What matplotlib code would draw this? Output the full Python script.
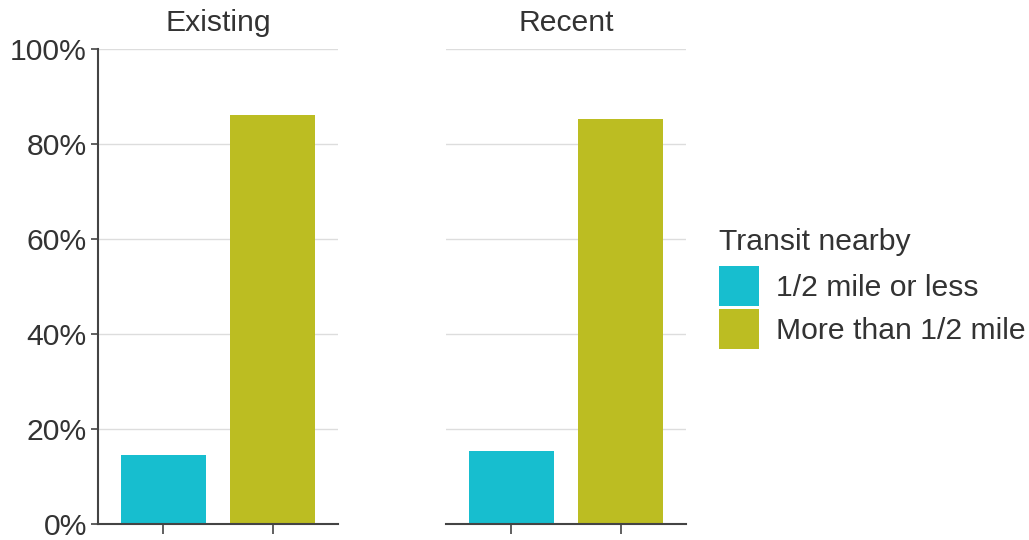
import matplotlib
matplotlib.use("Agg")
import matplotlib.pyplot as plt
from matplotlib.patches import Patch
from matplotlib.ticker import PercentFormatter

# data
panels = ["Existing", "Recent"]
categories = ["1/2 mile or less", "More than 1/2 mile"]
existing_vals = [14.5, 86.1]
recent_vals = [15.4, 85.3]
colors = ["#17BECF", "#BCBD22"]

plt.rcParams["font.family"] = ["Liberation Sans", "DejaVu Sans"]
text_color = "#333333"
fs = 21.7

fig = plt.figure(figsize=(10.29, 5.40), dpi=100)
ax1 = fig.add_axes([98 / 1029, 16 / 540, 240 / 1029, 475 / 540])
ax2 = fig.add_axes([446 / 1029, 16 / 540, 240 / 1029, 475 / 540])

for ax, title, vals in zip([ax1, ax2], panels, [existing_vals, recent_vals]):
    ax.bar(range(len(categories)), vals, width=0.78, color=colors, zorder=2)
    ax.set_xlim(-0.6, 1.6)
    ax.set_ylim(0, 100)
    ax.set_yticks([0, 20, 40, 60, 80, 100])
    ax.yaxis.set_major_formatter(PercentFormatter(decimals=0))
    ax.set_xticks(range(len(categories)))
    ax.set_xticklabels([])
    ax.grid(axis="y", color="#dddddd", linewidth=1, zorder=0)
    ax.set_axisbelow(True)
    for s in ["top", "right"]:
        ax.spines[s].set_visible(False)
    ax.spines["bottom"].set_color("#444444")
    ax.spines["bottom"].set_linewidth(1.5)
    ax.tick_params(axis="x", direction="out", length=7, width=1.2, color="#444444")
    ax.tick_params(axis="y", labelsize=fs, labelcolor=text_color, length=5, width=1.2,
                   color="#444444", pad=3)
    ax.set_title(title, fontsize=fs, color=text_color, pad=13)

ax1.spines["left"].set_color("#444444")
ax1.spines["left"].set_linewidth(1.5)
ax2.spines["left"].set_visible(False)
ax2.tick_params(axis="y", left=False, labelleft=False)

handles = [Patch(facecolor=c, edgecolor="none") for c in colors]
leg = fig.legend(handles, categories, title="Transit nearby", loc="upper left",
                 bbox_to_anchor=(719 / 1029, 1 - 228 / 540), frameon=False,
                 fontsize=fs, title_fontsize=fs, handlelength=1.33, handleheight=1.68,
                 labelspacing=0.08, handletextpad=0.55, borderpad=0, borderaxespad=0,
                 alignment="left")
leg._legend_box.sep = 7.2  # extra room under the legend title
for t in leg.get_texts():
    t.set_color(text_color)
leg.get_title().set_color(text_color)

fig.savefig("out.png", dpi=100)
